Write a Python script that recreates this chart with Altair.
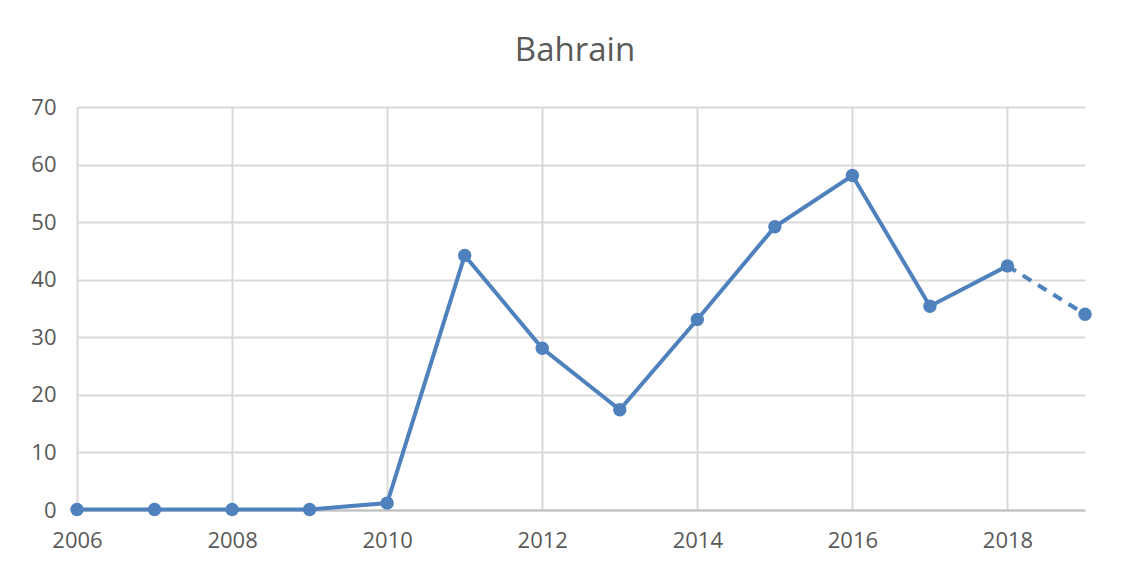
import altair as alt
import pandas as pd

years = [2006, 2007, 2008, 2009, 2010, 2011, 2012, 2013, 2014, 2015, 2016, 2017, 2018, 2019]
values = [0.1, 0.1, 0.1, 0.1, 1.2, 44.2, 28.1, 17.4, 33.1, 49.2, 58.1, 35.4, 42.4, 34.0]
x_ticks = [2006, 2008, 2010, 2012, 2014, 2016, 2018]
y_ticks = [0, 10, 20, 30, 40, 50, 60, 70]

df = pd.DataFrame({"year": years, "value": values})
solid = df[df["year"] <= 2018]
dashed = df[df["year"] >= 2018]

BLUE = "#4f81bd"
TEXT = "#595959"
FONT = "Open Sans"

x_enc = alt.X("year:Q",
              scale=alt.Scale(domain=[2006, 2019], nice=False, zero=False),
              axis=alt.Axis(values=x_ticks, format="d", title=None, ticks=False,
                            labelPadding=20, labelFontSize=22, labelColor=TEXT,
                            labelFont=FONT, grid=True, gridColor="#d9d9d9",
                            gridWidth=2, domainColor="#bfbfbf", domainWidth=2,
                            labelOverlap=False, labelFlush=False))
y_enc = alt.Y("value:Q",
              scale=alt.Scale(domain=[0, 70], nice=False),
              axis=alt.Axis(values=y_ticks, title=None, ticks=False,
                            labelPadding=21, labelFontSize=22, labelColor=TEXT,
                            labelFont=FONT, grid=True, gridColor="#d9d9d9",
                            gridWidth=2, domain=False))

line_solid = alt.Chart(solid).mark_line(color=BLUE, strokeWidth=4).encode(x=x_enc, y=y_enc)
line_dash = alt.Chart(dashed).mark_line(color=BLUE, strokeWidth=4, strokeDash=[10, 8]).encode(x=x_enc, y=y_enc)
points = alt.Chart(df).mark_point(filled=True, color=BLUE, size=180, opacity=1).encode(x=x_enc, y=y_enc)

chart = alt.layer(line_solid, line_dash, points).properties(
    width=1008,
    height=403,
    title=alt.TitleParams("Bahrain", fontSize=33, font=FONT, fontWeight="normal",
                          color=TEXT, anchor="middle", offset=28, dx=-6),
    autosize=alt.AutoSizeParams(type="none"),
    padding={"left": 69, "top": 99, "right": 40, "bottom": 50},
    background="white",
).configure_view(stroke=None)

chart.save("out.html", embed_options={"renderer": "svg", "actions": False})
